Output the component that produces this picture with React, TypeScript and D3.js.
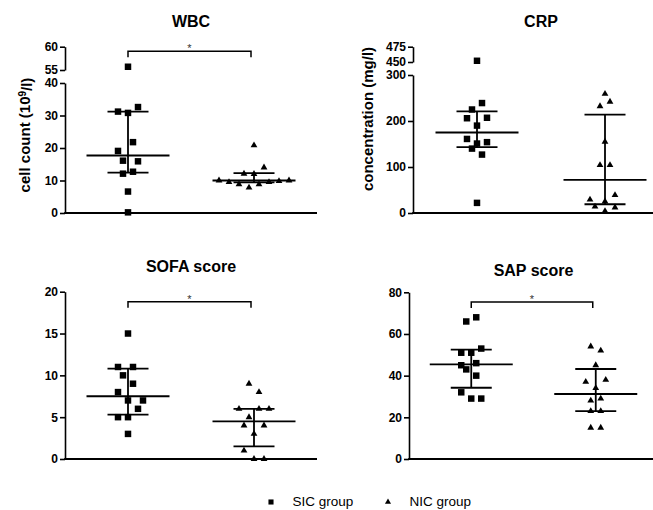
import React, { useRef, useEffect } from 'react';
import * as d3 from 'd3';

const groups = ['SIC group', 'NIC group'];

// WBC, cell count (10^9/l)
const wbcSic = [55.7, 31.2, 30.8, 32.6, 21.8, 19.1, 16.1, 15.9, 12.1, 12.7, 6.6, 0.2];
const wbcSicSlot = [0, -2, 0, 2, 1, -2, -1, 2, -1, 1, 0, 0];
const wbcNic = [20.8, 14.0, 12.1, 12.0, 10.0, 9.5, 8.8, 7.8, 8.8, 9.5, 9.8, 10.0];
const wbcNicSlot = [0, 2, -2, 0, -7, -5, -3, -1, 1, 3, 5, 7];
const wbcSicStats = [12.4, 17.7, 31.2]; // q1, median, q3
const wbcNicStats = [9.4, 10.0, 12.3];
const wbcTicksLow = [0, 10, 20, 30, 40];
const wbcTicksHigh = [55, 60];

// CRP, concentration (mg/l)
const crpSic = [452, 239, 225, 206, 207, 190, 161, 154, 151, 140, 127, 22];
const crpSicSlot = [0, 1, -1, -2, 2, 0, -2, 2, 0, -1, 1, 0];
const crpNic = [259, 232, 242, 155, 104, 104, 29, 39, 14, 25, 12, 4];
const crpNicSlot = [0, -1, 1, 0, -1, 1, -3, 2, -2, 0, 2, 0];
const crpSicStats = [143, 175, 221];
const crpNicStats = [19, 72, 214];
const crpTicksLow = [0, 100, 200, 300];
const crpTicksHigh = [450, 475];

// SOFA score
const sofaSic = [15, 11, 11, 10, 9, 8, 7, 7, 6, 5, 5, 3];
const sofaSicSlot = [0, -2, 1, -1, 1, -2, 0, 3, 2, -2, 0, 0];
const sofaNic = [9, 8, 6, 6, 6, 5, 4, 4, 3, 1, 0, 0];
const sofaNicSlot = [-1, 1, -3, 1, 3, -1, -2, 2, 0, -2, 0, 2];
const sofaSicStats = [5.3, 7.5, 10.8];
const sofaNicStats = [1.5, 4.5, 6.0];
const sofaTicks = [0, 5, 10, 15, 20];

// SAP score
const sapSic = [68, 66, 53, 51, 51, 46, 45, 43, 40, 32, 29, 29];
const sapSicSlot = [1, -1, 2, -2, 0, 1, -2, -1, 1, -2, 0, 2];
const sapNic = [54, 52, 45, 37, 38, 34, 28, 29, 23, 23, 15, 15];
const sapNicSlot = [-1, 1, 0, -2, 2, 0, -1, 1, -1, 1, -1, 1];
const sapSicStats = [34.2, 45.4, 52.5];
const sapNicStats = [23.0, 31.2, 43.2];
const sapTicks = [0, 20, 40, 60, 80];

const W = 653;
const H = 510;
const FONT = '"Liberation Sans", Arial, Helvetica, sans-serif';
const SLOT_PX = 5;

type Seg = { domain: [number, number]; range: [number, number]; ticks: number[] };
type Panel = {
  title: string;
  titleY: number;
  left: number;
  width: number;
  bottom: number;
  segs: Seg[];
  label?: string[];
  labelX?: number;
  labelY?: number;
  sic: number[];
  sicSlot: number[];
  nic: number[];
  nicSlot: number[];
  sicStats: number[];
  nicStats: number[];
  sigAt?: number;
};

const panels: Panel[] = [
  {
    title: 'WBC', titleY: 27, left: 65, width: 252, bottom: 213,
    segs: [
      { domain: [0, 40], range: [213, 83], ticks: wbcTicksLow },
      { domain: [55, 60], range: [70, 46.7], ticks: wbcTicksHigh },
    ],
    label: ['cell count (10', '9', '/l)'], labelX: 30, labelY: 135,
    sic: wbcSic, sicSlot: wbcSicSlot, nic: wbcNic, nicSlot: wbcNicSlot,
    sicStats: wbcSicStats, nicStats: wbcNicStats, sigAt: 59,
  },
  {
    title: 'CRP', titleY: 27, left: 413, width: 256, bottom: 213,
    segs: [
      { domain: [0, 300], range: [213, 75], ticks: crpTicksLow },
      { domain: [450, 475], range: [62, 46.7], ticks: crpTicksHigh },
    ],
    label: ['concentration (mg/l)'], labelX: 373, labelY: 119,
    sic: crpSic, sicSlot: crpSicSlot, nic: crpNic, nicSlot: crpNicSlot,
    sicStats: crpSicStats, nicStats: crpNicStats,
  },
  {
    title: 'SOFA score', titleY: 272, left: 65, width: 252, bottom: 459,
    segs: [{ domain: [0, 20], range: [459, 291.7], ticks: sofaTicks }],
    sic: sofaSic, sicSlot: sofaSicSlot, nic: sofaNic, nicSlot: sofaNicSlot,
    sicStats: sofaSicStats, nicStats: sofaNicStats, sigAt: 18.8,
  },
  {
    title: 'SAP score', titleY: 275.5, left: 409, width: 249, bottom: 459,
    segs: [{ domain: [0, 80], range: [459, 292.3], ticks: sapTicks }],
    sic: sapSic, sicSlot: sapSicSlot, nic: sapNic, nicSlot: sapNicSlot,
    sicStats: sapSicStats, nicStats: sapNicStats, sigAt: 75.3,
  },
];

const drawPanel = (svg: d3.Selection<SVGSVGElement, unknown, null, undefined>, p: Panel) => {
  const g = svg.append('g').attr('font-family', FONT);

  const x = d3.scalePoint<string>().domain(groups).range([p.left, p.left + p.width]).padding(0.5);
  const scales = p.segs.map(s => d3.scaleLinear().domain(s.domain).range(s.range));
  const y = (v: number) => {
    let i = p.segs.findIndex(s => v <= s.domain[1]);
    if (i < 0) i = p.segs.length - 1;
    return scales[i](v);
  };

  // title
  g.append('text')
    .attr('x', p.left + p.width / 2)
    .attr('y', p.titleY)
    .attr('text-anchor', 'middle')
    .attr('font-size', 16)
    .attr('font-weight', 'bold')
    .text(p.title);

  // y axis segments (broken axis)
  p.segs.forEach((s, i) => {
    const ax = g.append('g')
      .attr('transform', `translate(${p.left},0)`)
      .call(
        d3.axisLeft(scales[i])
          .tickValues(s.ticks)
          .tickFormat(d3.format('d'))
          .tickSize(5)
          .tickSizeOuter(0)
          .tickPadding(2)
      );
    ax.attr('font-family', FONT).attr('font-size', 12).attr('font-weight', 'bold');
    ax.selectAll('path, line').attr('stroke', '#000').attr('stroke-width', 1.6);
    ax.selectAll('text').attr('fill', '#000');
  });

  // x axis line
  g.append('line')
    .attr('x1', p.left - 0.8).attr('x2', p.left + p.width)
    .attr('y1', p.bottom).attr('y2', p.bottom)
    .attr('stroke', '#000').attr('stroke-width', 1.8);

  // y label
  if (p.label) {
    const t = g.append('text')
      .attr('transform', `translate(${p.labelX},${p.labelY}) rotate(-90)`)
      .attr('text-anchor', 'middle')
      .attr('font-size', 15)
      .attr('font-weight', 'bold');
    t.append('tspan').text(p.label[0]);
    if (p.label.length > 1) {
      t.append('tspan').attr('dy', '-0.45em').attr('font-size', 10).text(p.label[1]);
      t.append('tspan').attr('dy', '0.45em').text(p.label[2]);
    }
  }

  // median with interquartile range
  const summary = (name: string, st: number[]) => {
    const cx = x(name)!;
    const sg = g.append('g').attr('stroke', '#000').attr('stroke-width', 1.8);
    sg.append('line').attr('x1', cx).attr('x2', cx).attr('y1', y(st[0])).attr('y2', y(st[2]));
    [st[0], st[2]].forEach(v => {
      sg.append('line').attr('x1', cx - 20.5).attr('x2', cx + 20.5).attr('y1', y(v)).attr('y2', y(v));
    });
    sg.append('line').attr('x1', cx - 41.5).attr('x2', cx + 41.5).attr('y1', y(st[1])).attr('y2', y(st[1]));
  };
  summary(groups[0], p.sicStats);
  summary(groups[1], p.nicStats);

  // points
  const sq = d3.symbol(d3.symbolSquare, 42);
  const tri = d3.symbol(d3.symbolTriangle, 20);
  g.append('g').selectAll('path')
    .data(p.sic)
    .join('path')
    .attr('d', sq())
    .attr('fill', '#000')
    .attr('transform', (d, i) => `translate(${x(groups[0])! + p.sicSlot[i] * SLOT_PX},${y(d)})`);
  g.append('g').selectAll('path')
    .data(p.nic)
    .join('path')
    .attr('d', tri())
    .attr('fill', '#000')
    .attr('transform', (d, i) => `translate(${x(groups[1])! + p.nicSlot[i] * SLOT_PX},${y(d)})`);

  // significance bracket
  if (p.sigAt !== undefined) {
    const by = y(p.sigAt);
    const x1 = x(groups[0])!;
    const x2 = x(groups[1])! - 3;
    g.append('path')
      .attr('d', `M${x1},${by + 6}V${by}H${x2}V${by + 6}`)
      .attr('fill', 'none')
      .attr('stroke', '#000')
      .attr('stroke-width', 1.5);
    g.append('text')
      .attr('x', (x1 + x2) / 2)
      .attr('y', by + 1)
      .attr('text-anchor', 'middle')
      .attr('font-size', 11)
      .attr('fill', '#333')
      .text('*');
  }
};

const drawLegend = (svg: d3.Selection<SVGSVGElement, unknown, null, undefined>) => {
  const lg = svg.append('g').attr('font-family', FONT).attr('font-size', 13.5);
  const items = [
    { name: groups[0], sym: d3.symbol(d3.symbolSquare, 26), x: 271 },
    { name: groups[1], sym: d3.symbol(d3.symbolTriangle, 16), x: 388 },
  ];
  items.forEach(it => {
    lg.append('path').attr('d', it.sym()).attr('fill', '#000').attr('transform', `translate(${it.x},502)`);
    lg.append('text').attr('x', it.x + 21.5).attr('y', 506).attr('fill', '#000').text(it.name);
  });
};

const App = () => {
  const svgRef = useRef<SVGSVGElement>(null);

  useEffect(() => {
    if (!svgRef.current) return;
    const svg = d3.select(svgRef.current);
    svg.selectAll('*').remove();
    panels.forEach(p => drawPanel(svg, p));
    drawLegend(svg);
  }, []);

  return (
    <svg
      ref={svgRef}
      width={W}
      height={H}
      style={{ position: 'absolute', left: 0, top: 0, background: '#fff' }}
    />
  );
};

export default App;
